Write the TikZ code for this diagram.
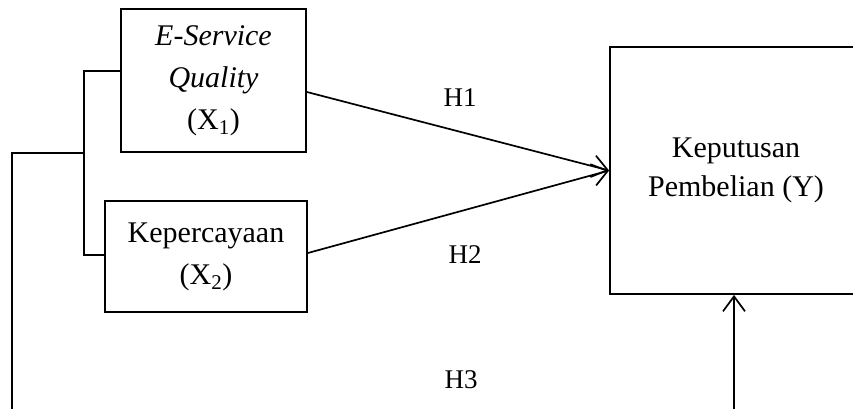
\documentclass[tikz,border=0pt]{standalone}
\usepackage{fontspec}
\setmainfont{Liberation Serif}
\usetikzlibrary{arrows.meta}
\tikzset{
  varbox/.style={draw, line width=1.8pt, inner sep=0pt, align=center,
    font=\fontsize{30}{42}\selectfont},
  conn/.style={line width=1.7pt},
  arr/.style={conn, -{Straight Barb[length=15pt, width=22pt, line width=1.7pt]}},
  hlabel/.style={font=\fontsize{27}{30}\selectfont, inner sep=0pt}
}
\begin{document}
\begin{tikzpicture}[x=1pt, y=-1pt]
\useasboundingbox (0,0) rectangle (853,409);
\clip (0,0) rectangle (853,409);
\fill[white] (0,0) rectangle (853,409);
\node[varbox, minimum width=185pt, minimum height=143pt] (x1) at (213.5,80.5)
  {\textit{E-Service}\\\textit{Quality}\\(X\textsubscript{1})};
\node[varbox, minimum width=202pt, minimum height=111pt] (x2) at (206,256.5)
  {Kepercayaan\\(X\textsubscript{2})};
\node[varbox, font=\fontsize{30}{39}\selectfont, minimum width=252pt, minimum height=247pt] (y) at (736,170.5)
  {Keputusan\\Pembelian (Y)};
\coordinate (b1) at (84,71);
\coordinate (b2) at (84,255);
\coordinate (j) at (84,153);
\coordinate (c1) at (12,153);
\coordinate (c2) at (12,410);
\coordinate (c3) at (734,410);
\coordinate (s1) at (0,92);
\coordinate (s2) at (0,253);
\draw[conn] (x1.west |- b1) -- (b1) -- (b2) -- (x2.west |- b2);
\draw[conn] (j) -- (c1) -- (c2) -- (c3);
\draw[arr] (c3) -- (c3 |- y.south);
\draw[arr] (x1.east |- s1) -- (y.west);
\draw[arr] (x2.east |- s2) -- (y.west);
\node[hlabel] (h1) at (460,98) {H1};
\node[hlabel] (h2) at (465,255) {H2};
\node[hlabel] (h3) at (461,380) {H3};
\end{tikzpicture}
\end{document}
